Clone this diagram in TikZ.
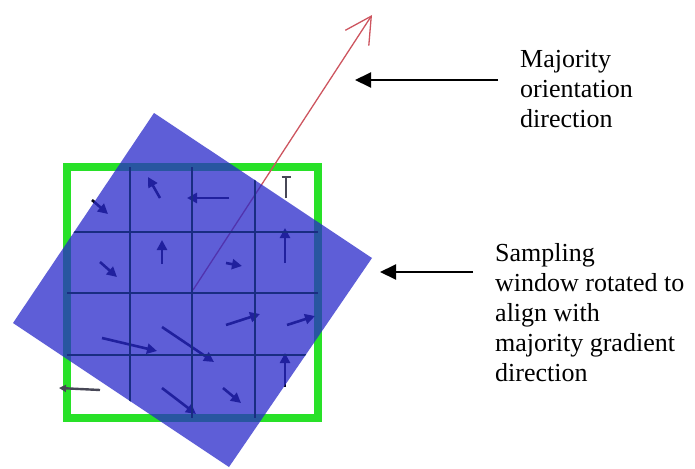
\documentclass[tikz,border=0pt]{standalone}
\usepackage{fontspec}
\setmainfont{Liberation Serif}
\usetikzlibrary{arrows.meta}
\definecolor{gridgreen}{RGB}{40,225,40}
\definecolor{winblue}{RGB}{40,40,201}
\definecolor{redline}{RGB}{205,85,95}
\definecolor{gridnavy}{RGB}{25,45,130}
\definecolor{arrowdark}{RGB}{10,10,30}
\tikzset{
  garrow/.style={arrowdark, line width=2.6pt, -{Triangle[length=10pt,width=10pt]}},
  callout/.style={black, line width=2pt, -{Triangle[length=16pt,width=15pt]}},
  label/.style={anchor=base west, inner sep=0pt, align=left, font=\fontsize{26}{30}\selectfont},
  winshape/.style={winblue, fill opacity=0.75}
}
\begin{document}
\begin{tikzpicture}[x=1pt,y=-1pt]
\useasboundingbox (0,0) rectangle (695,468);
% green frame
\draw[gridgreen, line width=8pt] (67,167) rectangle (318,418);
% gradient arrows
\coordinate (a1s) at (92,200);  \coordinate (a1e) at (108,214);
\coordinate (a2s) at (160,198); \coordinate (a2e) at (148,177);
\coordinate (a3s) at (229,198); \coordinate (a3e) at (187,198);
\coordinate (a5s) at (100,262); \coordinate (a5e) at (117,277);
\coordinate (a6s) at (162,264); \coordinate (a6e) at (162,240);
\coordinate (a7s) at (226,263); \coordinate (a7e) at (242,266);
\coordinate (a8s) at (285,263); \coordinate (a8e) at (285,228);
\coordinate (a9s) at (102,338); \coordinate (a9e) at (157,351);
\coordinate (a10s) at (162,327); \coordinate (a10e) at (214,362);
\coordinate (a11s) at (226,325); \coordinate (a11e) at (260,314);
\coordinate (a12s) at (287,325); \coordinate (a12e) at (315,316);
\coordinate (a13s) at (162,388); \coordinate (a13e) at (196,414);
\coordinate (a14s) at (223,388); \coordinate (a14e) at (241,403);
\coordinate (a15s) at (285,387); \coordinate (a15e) at (285,353);
\foreach \i in {1,2,3,5,6,7,8,9,10,11,12,13,14,15}
  \draw[garrow] (a\i s) -- (a\i e);
\coordinate (a4s) at (286,198); \coordinate (a4e) at (286,176);
\draw[arrowdark!75, line width=2.2pt, -{Bar[width=9pt,line width=2pt]}] (a4s) -- (a4e);
\coordinate (a16s) at (100,390); \coordinate (a16e) at (59,388);
\draw[arrowdark!75, line width=2.4pt, -{Triangle[length=7pt,width=7pt]}] (a16s) -- (a16e);
% majority orientation arrow
\coordinate (ctr) at (193,290);
\coordinate (tip) at (372,15);
\draw[redline, line width=1.3pt, -{Straight Barb[length=26pt,width=28pt,line width=1.3pt]}] (ctr) -- (tip);
% rotated sampling window
\fill[winshape] (13,323) -- (154,113) -- (372,258) -- (229,467) -- cycle;
\begin{scope}
  \clip (13,323) -- (154,113) -- (372,258) -- (229,467) -- cycle;
  \draw[gridnavy, line width=1.6pt]
    (130,167) -- (130,418) (192,167) -- (192,418) (255,167) -- (255,418)
    (67,232) -- (318,232) (67,293) -- (318,293) (67,355) -- (318,355);
\end{scope}
% labels
\node[label] (maj) at (520,128) {Majority\\orientation\\direction};
\node[label] (samp) at (495,381) {Sampling\\window rotated to\\align with\\majority gradient\\direction};
\coordinate (c1s) at (498,80); \coordinate (c1e) at (355,80);
\coordinate (c2s) at (473,272); \coordinate (c2e) at (380,272);
\draw[callout] (c1s) -- (c1e);
\draw[callout] (c2s) -- (c2e);
\end{tikzpicture}
\end{document}
